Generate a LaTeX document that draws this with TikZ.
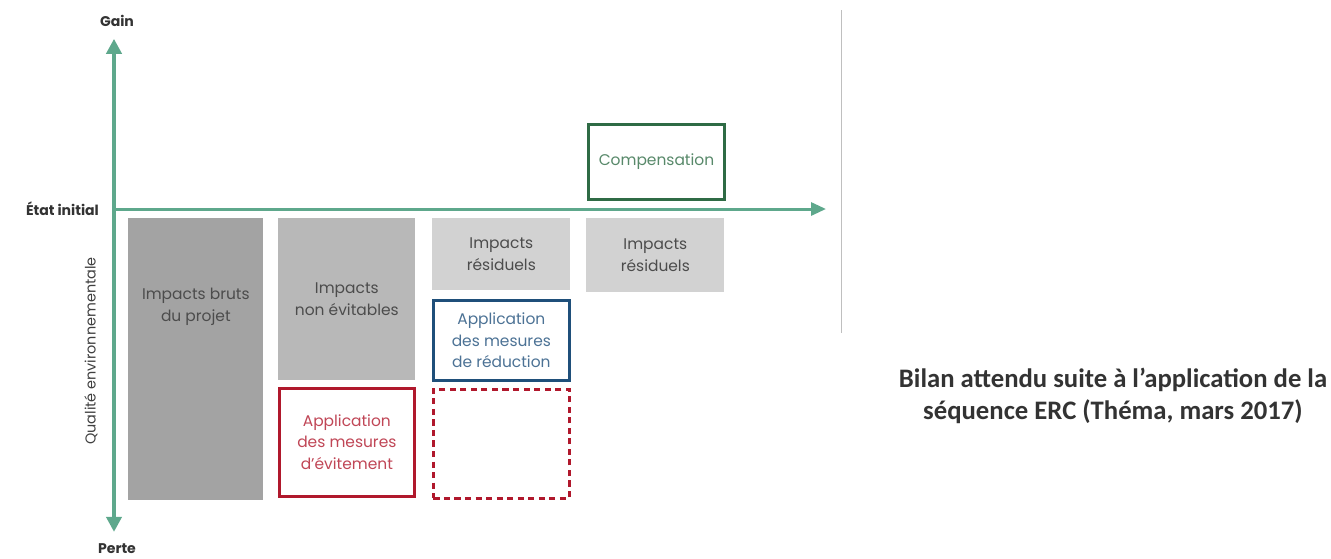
\documentclass[tikz,border=0pt]{standalone}
\usepackage{fontspec}
\setmainfont{Carlito}
\setsansfont{Poppins}
\usetikzlibrary{positioning, arrows.meta, calc}
\definecolor{axisgreen}{HTML}{5EA88C}
\definecolor{brutgray}{HTML}{A3A3A3}
\definecolor{midgray}{HTML}{B8B8B8}
\definecolor{lightgray}{HTML}{D2D2D2}
\definecolor{ercred}{HTML}{B0182C}
\definecolor{ercblue}{HTML}{1F4F7A}
\definecolor{ercgreen}{HTML}{2F6B45}
\definecolor{captiongray}{HTML}{333333}

\begin{document}
\begin{tikzpicture}[
  x=0.02cm, y=-0.02cm,
  font=\sffamily,
  node distance=0.12cm and 0.3cm,
  axis/.style={draw=axisgreen, line width=0.08cm},
  axislabel/.style={font=\sffamily\fontsize{8}{9}\selectfont\bfseries, text=black!80, inner sep=1pt},
  boxtext/.style={align=center, font=\sffamily\fontsize{8.8}{12.5}\selectfont},
  impact/.style={boxtext, draw=none, minimum width=2.74cm, text=black!70, inner sep=0pt},
  mesure/.style={boxtext, fill=white, line width=0.06cm, minimum width=2.7cm, inner sep=0pt},
  caption/.style={align=center, font=\rmfamily\fontsize{15.2}{17.8}\selectfont\bfseries, text=captiongray},
]
\useasboundingbox (0,0) rectangle (1331,558);

% axes
\coordinate (origin) at (114,209);
\coordinate (xend) at (826,209);
\node[axislabel] (gain) at (117,21) {Gain};
\node[axislabel] (perte) at (117,549) {Perte};
\node[axislabel, anchor=east] (etat) at (101,209) {État initial};
\node[rotate=90, font=\sffamily\fontsize{8.2}{9}\selectfont, text=black!75] (qualite) at (91,351) {Qualité environnementale};

\draw[axis, {Triangle[length=0.3cm, width=0.3cm]}-{Triangle[length=0.3cm, width=0.3cm]}]
  ($(perte.north -| origin)+(0,-10)$) -- ($(gain.south -| origin)+(0,10)$);
\draw[axis, line width=0.06cm, -{Triangle[length=0.3cm, width=0.26cm]}] (origin) -- (xend);

% frame edge on the right
\draw[black!25, line width=0.5pt] (841,10) -- (841,333);

% impacts
\node[impact, fill=brutgray, minimum width=2.7cm, minimum height=5.64cm, anchor=north west] (bruts) at (128,218) {};
\node[boxtext, text=black!70] (bruts-txt) at ($(bruts.north)+(0,89)$) {Impacts bruts\\du projet};

\node[impact, fill=midgray, minimum height=3.24cm, anchor=north west] (nonevit) at (278,218) {Impacts\\non évitables};
\node[mesure, draw=ercred, text=ercred!80, minimum height=2.16cm, below=of nonevit] (evit) {Application\\des mesures\\d’évitement};

\node[impact, fill=lightgray, minimum width=2.76cm, minimum height=1.44cm, anchor=north west] (resid1) at (432,218) {Impacts\\résiduels};
\node[mesure, draw=ercblue, text=ercblue!80, minimum width=2.72cm, minimum height=1.6cm, below=0.16cm of resid1] (reduc) {Application\\des mesures\\de réduction};
\node[mesure, draw=ercred, dash pattern=on 3.5pt off 2.5pt, minimum width=2.72cm, minimum height=2.18cm, below=0.12cm of reduc] (reste) {};

\node[impact, fill=lightgray, minimum width=2.76cm, minimum height=1.48cm, anchor=north west] (resid2) at (586,218) {Impacts\\résiduels};
\node[mesure, draw=ercgreen, text=ercgreen!80, minimum width=2.72cm, minimum height=1.5cm, anchor=north west] (comp) at (587,123) {Compensation};

% caption
\node[caption] (legende) at (1113,396) {Bilan attendu suite à l’application de la\\séquence ERC (Théma, mars 2017)};

\end{tikzpicture}
\end{document}
